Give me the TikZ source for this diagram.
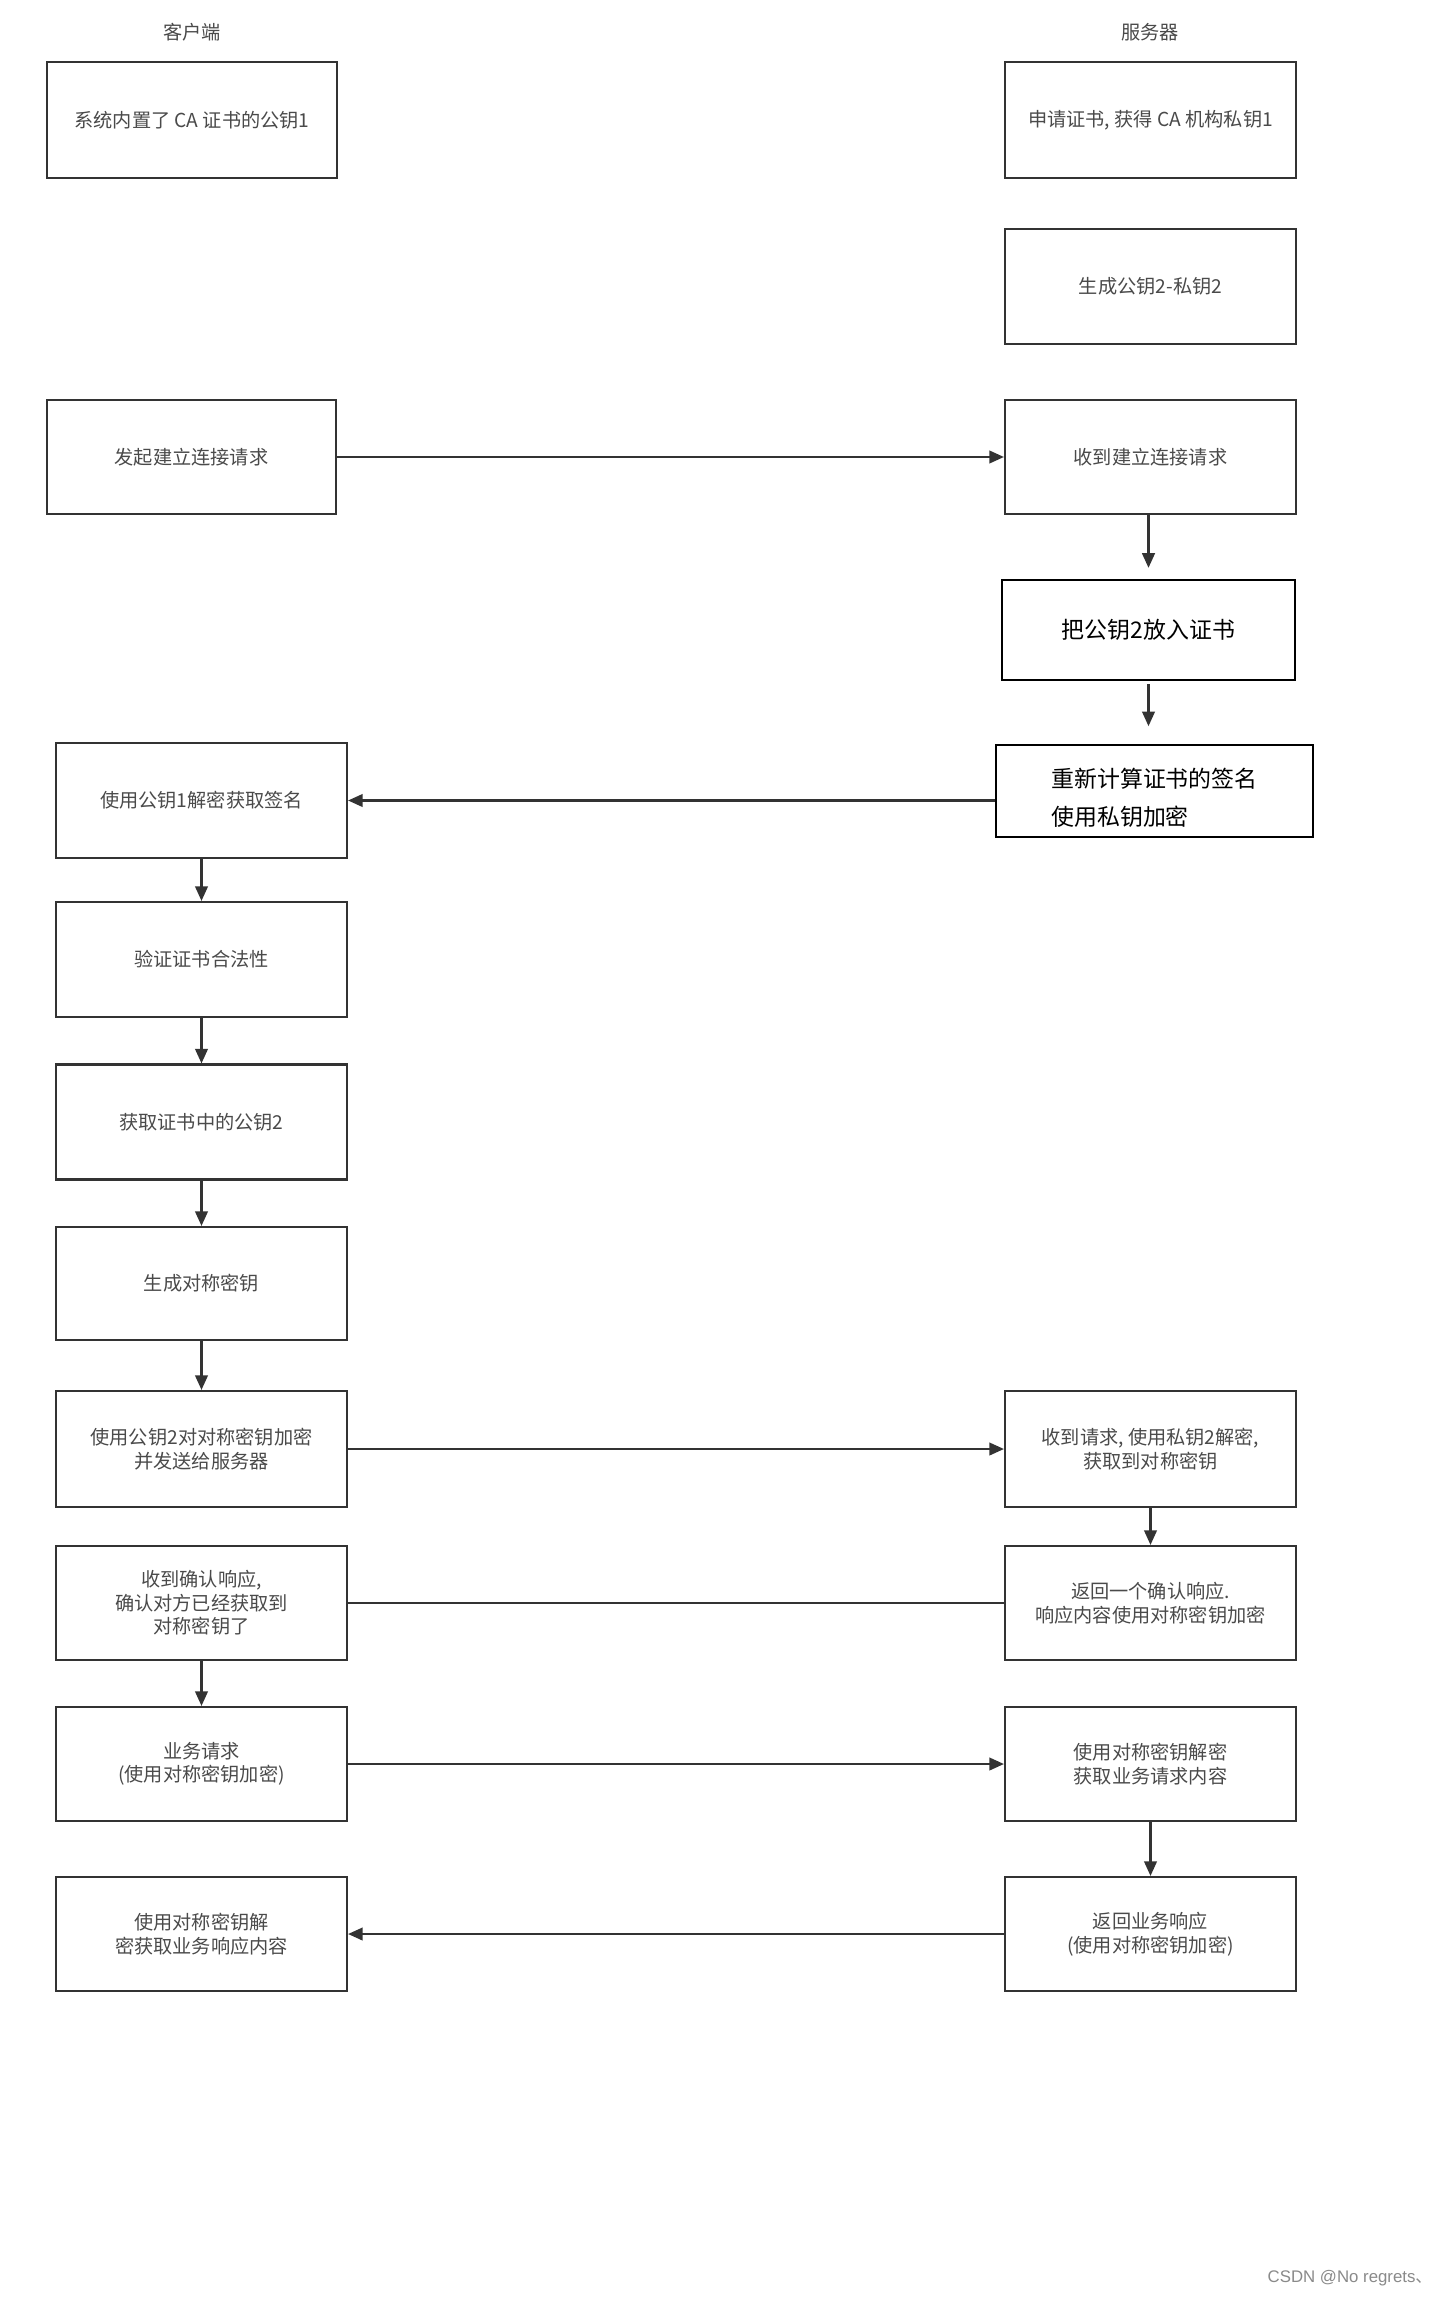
\documentclass[tikz,border=0pt]{standalone}
\usepackage{fontspec}
\setmainfont{Noto Sans CJK SC}
\newfontfamily\wmfont{Liberation Sans}
\usetikzlibrary{arrows.meta}
\definecolor{boxline}{HTML}{333333}
\definecolor{boxtext}{HTML}{4A4A4A}
\definecolor{wmgray}{HTML}{8A8A8A}
\tikzset{
  gbox/.style={draw=boxline, line width=1.6pt, fill=white, inner sep=0pt, align=center,
    text=boxtext, font=\fontsize{14.4pt}{17.6pt}\selectfont},
  kbox/.style={draw=black, line width=2.2pt, fill=white, inner sep=0pt, text=black,
    font=\fontsize{17.2pt}{28.5pt}\selectfont},
  ktext/.style={inner sep=0pt, text=black, align=left,
    font=\fontsize{17.2pt}{28.5pt}\selectfont},
  hdr/.style={text=boxtext, font=\fontsize{14.4pt}{17pt}\selectfont, inner sep=0pt},
  conn/.style={draw=boxline, line width=1.6pt},
  arr/.style={conn, -{Triangle[length=11pt,width=9.5pt]}},
}
\begin{document}
\begin{tikzpicture}[x=0.75pt,y=-0.75pt]
\useasboundingbox[fill=white] (0,0) rectangle (1445,2297);
% headers
\node[hdr] (hc) at (192,32) {客户端};
\node[hdr] (hs) at (1150,32) {服务器};
% top boxes
\node[gbox, minimum width={290*0.75pt}, minimum height={116*0.75pt}] (c1) at (192,120) {系统内置了 CA 证书的公钥1};
\node[gbox, minimum width={291*0.75pt}, minimum height={116*0.75pt}] (s1) at (1150.5,120) {申请证书, 获得 CA 机构私钥1};
\node[gbox, minimum width={291*0.75pt}, minimum height={115*0.75pt}] (s2) at (1150.5,286.5) {生成公钥2-私钥2};
\node[gbox, minimum width={289*0.75pt}, minimum height={114*0.75pt}] (c2) at (191.5,457) {发起建立连接请求};
\node[gbox, minimum width={291*0.75pt}, minimum height={114*0.75pt}] (s3) at (1150.5,457) {收到建立连接请求};
\node[kbox, minimum width={293*0.75pt}, minimum height={100*0.75pt}, align=center] (s4) at (1148.5,630) {把公钥2放入证书};
\node[kbox, minimum width={317*0.75pt}, minimum height={92*0.75pt}] (s5) at (1154.5,791) {};
\node[ktext] (s5t) at (1154.5,798) {重新计算证书的签名\\使用私钥加密};
% left column
\node[gbox, minimum width={291*0.75pt}, minimum height={115*0.75pt}] (c3) at (201.5,800.5) {使用公钥1解密获取签名};
\node[gbox, minimum width={291*0.75pt}, minimum height={115*0.75pt}] (c4) at (201.5,959.5) {验证证书合法性};
\node[gbox, minimum width={291*0.75pt}, minimum height={115*0.75pt}] (c5) at (201.5,1122) {获取证书中的公钥2};
\node[gbox, minimum width={291*0.75pt}, minimum height={113*0.75pt}] (c6) at (201.5,1283.5) {生成对称密钥};
\node[gbox, minimum width={291*0.75pt}, minimum height={116*0.75pt}] (c7) at (201.5,1449) {使用公钥2对对称密钥加密\\并发送给服务器};
\node[gbox, minimum width={291*0.75pt}, minimum height={114*0.75pt}] (c8) at (201.5,1603) {收到确认响应,\\确认对方已经获取到\\对称密钥了};
\node[gbox, minimum width={291*0.75pt}, minimum height={114*0.75pt}] (c9) at (201.5,1764) {业务请求\\(使用对称密钥加密)};
\node[gbox, minimum width={291*0.75pt}, minimum height={114*0.75pt}] (c10) at (201.5,1934) {使用对称密钥解\\密获取业务响应内容};
% right lower column
\node[gbox, minimum width={291*0.75pt}, minimum height={116*0.75pt}] (s6) at (1150.5,1449) {收到请求, 使用私钥2解密,\\获取到对称密钥};
\node[gbox, minimum width={291*0.75pt}, minimum height={114*0.75pt}] (s7) at (1150.5,1603) {返回一个确认响应.\\响应内容使用对称密钥加密};
\node[gbox, minimum width={291*0.75pt}, minimum height={114*0.75pt}] (s8) at (1150.5,1764) {使用对称密钥解密\\获取业务请求内容};
\node[gbox, minimum width={291*0.75pt}, minimum height={114*0.75pt}] (s9) at (1150.5,1934) {返回业务响应\\(使用对称密钥加密)};
% watermark
\node[text=wmgray, font=\wmfont\fontsize{12.6pt}{14pt}\selectfont, inner sep=0pt] (wm) at (1350,2278) {CSDN @No regrets{\rmfamily 、}};
% connectors
\draw[arr] (c2.east) -- (s3.west);
\draw[arr, shorten >=8pt] (s3.south -| s4.north) -- (s4.north);
\draw[arr, shorten <=2pt, shorten >=13pt] (s4.south) -- (s4.south |- s5.north);
\draw[arr] (s5.west |- c3.east) -- (c3.east);
\draw[arr] (c3.south) -- (c4.north);
\draw[arr] (c4.south) -- (c5.north);
\draw[arr] (c5.south) -- (c6.north);
\draw[arr] (c6.south) -- (c7.north);
\draw[arr] (c7.east) -- (s6.west);
\draw[arr] (s6.south) -- (s7.north);
\draw[conn] (c8.east) -- (s7.west);
\draw[arr] (c8.south) -- (c9.north);
\draw[arr] (c9.east) -- (s8.west);
\draw[arr] (s8.south) -- (s9.north);
\draw[arr] (s9.west) -- (c10.east);
\end{tikzpicture}
\end{document}
